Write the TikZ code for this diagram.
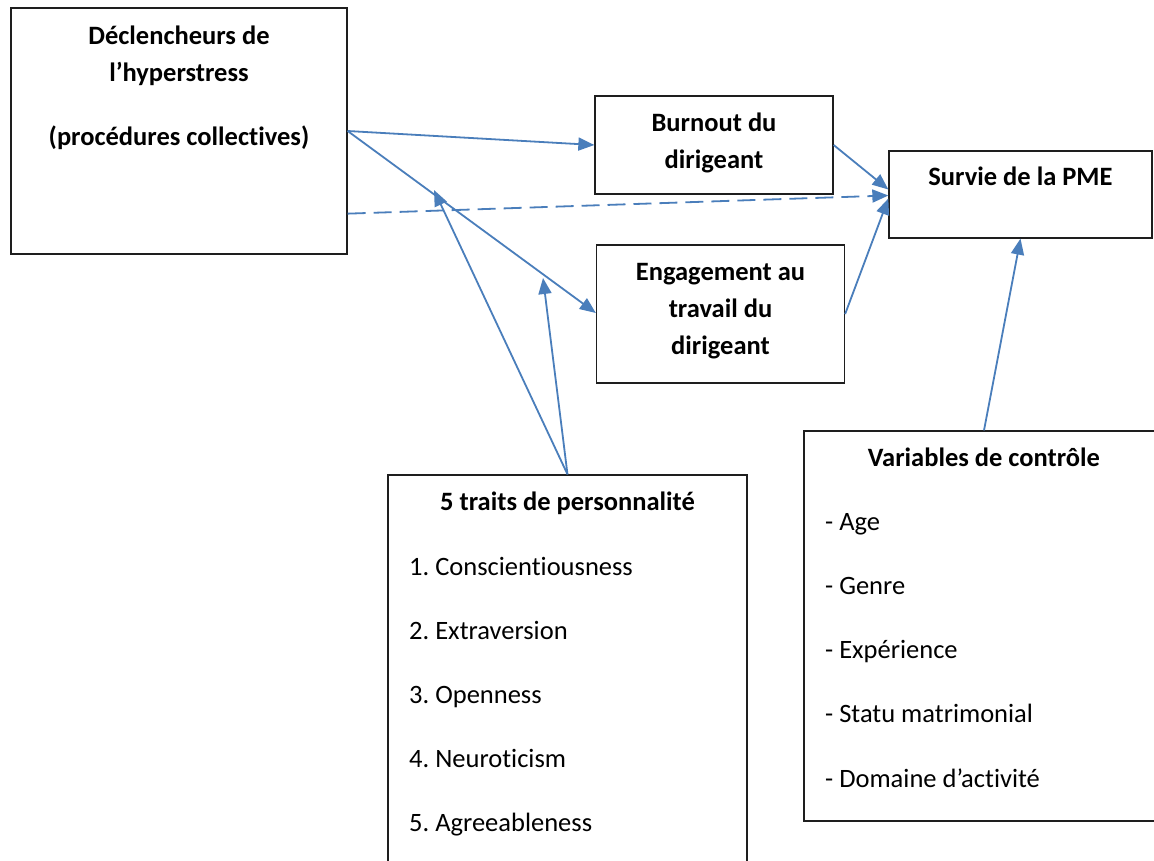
\documentclass[tikz,border=0pt]{standalone}
\usepackage{fontspec}
\setmainfont{Carlito}[RawFeature=-liga]
\usetikzlibrary{arrows.meta,calc}
\definecolor{arrowblue}{RGB}{74,126,187}
\definecolor{boxline}{RGB}{30,30,30}
\frenchspacing
\begin{document}
\begin{tikzpicture}[x=1pt,y=-1pt,
  box/.style={draw=boxline,line width=1.3pt,rectangle,inner sep=0pt,fill=white},
  txt/.style={anchor=base,inner sep=0pt,font=\fontsize{26.5}{37}\selectfont},
  btxt/.style={txt,font=\fontsize{26.5}{37}\selectfont\bfseries},
  ltxt/.style={anchor=base west,inner sep=0pt,font=\fontsize{26.5}{37}\selectfont},
  conn/.style={draw=arrowblue,line width=1.8pt,-{Triangle[length=16pt,width=13pt]}},
  dconn/.style={conn,dash pattern=on 18pt off 8pt}]
\clip (0,0) rectangle (1154,861);
\fill[white] (0,0) rectangle (1154,861);

% boxes
\node[box,minimum width=336pt,minimum height=246pt] (A) at (179,131) {};
\node[box,minimum width=238pt,minimum height=98pt] (B) at (714,145) {};
\node[box,minimum width=248pt,minimum height=138pt] (E) at (720.5,314) {};
\node[box,minimum width=263pt,minimum height=87pt] (S) at (1020.5,194.5) {};
\node[box,minimum width=359pt,minimum height=420pt] (T) at (567.5,685) {};
\node[box,minimum width=360pt,minimum height=390pt] (V) at (984,626) {};

% texts
\node[btxt] (a1) at (179,45) {Déclencheurs de};
\node[btxt] (a2) at (179,82) {l’hyperstress};
\node[btxt] (a3) at (179,146) {(procédures collectives)};
\node[btxt] (b1) at (714,132) {Burnout du};
\node[btxt] (b2) at (714,169) {dirigeant};
\node[btxt] (e1) at (720.5,280) {Engagement au};
\node[btxt] (e2) at (720.5,317) {travail du};
\node[btxt] (e3) at (720.5,354) {dirigeant};
\node[btxt] (s1) at (1020.5,186) {Survie de la PME};
\node[btxt] (t0) at (567.5,510) {5 traits de personnalité};
\node[ltxt] (t1) at (409,575) {1. Conscientiousness};
\node[ltxt] (t2) at (409,639) {2. Extraversion};
\node[ltxt] (t3) at (409,703) {3. Openness};
\node[ltxt] (t4) at (409,767) {4. Neuroticism};
\node[ltxt] (t5) at (409,831) {5. Agreeableness};
\node[btxt] (v0) at (984,466) {Variables de contrôle};
\node[ltxt] (v1) at (825,530) {- Age};
\node[ltxt] (v2) at (825,594) {- Genre};
\node[ltxt] (v3) at (825,658) {- Expérience};
\node[ltxt] (v4) at (825,722) {- Statu matrimonial};
\node[ltxt] (v5) at (825,787) {- Domaine d’activité};

% connector points
\coordinate (m1) at (434,190);
\coordinate (m2) at (543,278);

% connectors
\draw[conn] (A.east) -- ($(B.west)+(0,0)$);
\draw[conn] (A.east) -- ($(E.west)+(0,-1)$);
\draw[dconn] ($(A.south east)+(0,-41)$) -- ($(S.west)+(0,1)$);
\draw[conn] (B.east) -- ($(S.west)+(0,-5)$);
\draw[conn] (E.east) -- ($(S.west)+(0,4)$);
\draw[conn] (V.north) -- (S.south);
\draw[conn] (T.north) -- (m1);
\draw[conn] (T.north) -- (m2);
\end{tikzpicture}
\end{document}
